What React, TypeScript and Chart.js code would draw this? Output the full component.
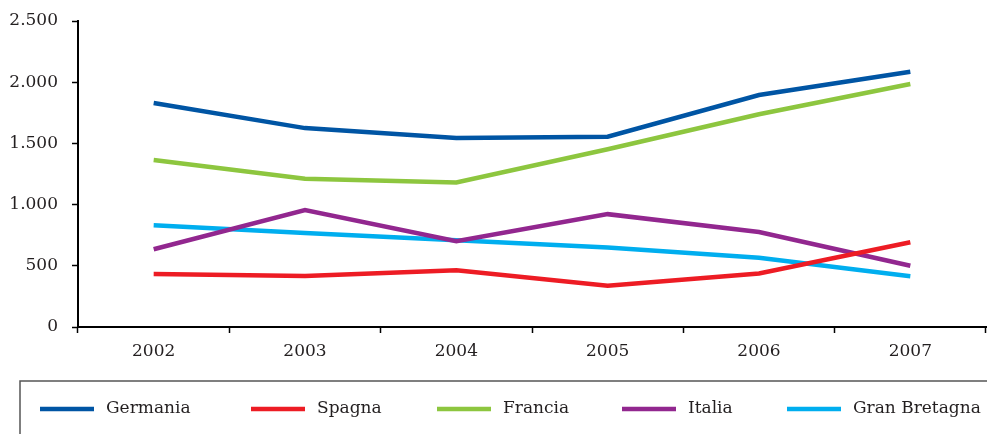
import React, { useEffect, useRef } from "react";
import { Chart, registerables } from "chart.js";

Chart.register(...registerables);

const years = ["2002", "2003", "2004", "2005", "2006", "2007"];
const germania = [1830, 1625, 1545, 1555, 1895, 2085];
const spagna = [433, 417, 463, 337, 437, 692];
const francia = [1364, 1212, 1180, 1452, 1738, 1985];
const italia = [635, 955, 700, 922, 776, 500];
const granBretagna = [832, 767, 708, 650, 565, 414];
const seriesNames = ["Germania", "Spagna", "Francia", "Italia", "Gran Bretagna"];
const seriesColors = ["#0055a4", "#ed1c24", "#8dc63f", "#92278f", "#00aeef"];
const yTicks = [0, 500, 1000, 1500, 2000, 2500];

const FONT = "'DejaVu Serif', serif";
const TEXT = "#231f20";
const legendX = [40, 251, 437, 622, 787];

const fmt = (v: number) => String(v).replace(/\B(?=(\d{3})+(?!\d))/g, ".");

const legendPlugin = {
  id: "boxLegend",
  afterDraw(chart: any) {
    const ctx = chart.ctx as CanvasRenderingContext2D;
    const W = chart.width;
    const H = chart.height;
    const top = 381;
    ctx.save();
    ctx.strokeStyle = "#555555";
    ctx.lineWidth = 1.5;
    ctx.beginPath();
    ctx.moveTo(W, top);
    ctx.lineTo(20, top);
    ctx.lineTo(20, H);
    ctx.stroke();
    ctx.font = `17px ${FONT}`;
    ctx.textBaseline = "middle";
    ctx.textAlign = "left";
    const y = 409;
    chart.data.datasets.forEach((ds: any, i: number) => {
      const x = legendX[i];
      ctx.strokeStyle = ds.borderColor;
      ctx.lineWidth = 4.5;
      ctx.beginPath();
      ctx.moveTo(x, y);
      ctx.lineTo(x + 54, y);
      ctx.stroke();
      ctx.fillStyle = TEXT;
      ctx.fillText(ds.label, x + 66, y);
    });
    ctx.restore();
  },
};

export default function App() {
  const ref = useRef<HTMLCanvasElement | null>(null);
  useEffect(() => {
    if (!ref.current) return;
    const data = [germania, spagna, francia, italia, granBretagna];
    const chart = new Chart(ref.current, {
      type: "line",
      data: {
        labels: years,
        datasets: data.map((d, i) => ({
          label: seriesNames[i],
          data: d,
          borderColor: seriesColors[i],
          backgroundColor: seriesColors[i],
          borderWidth: 4.5,
          pointRadius: 0,
          tension: 0,
          fill: false,
        })),
      },
      options: {
        animation: false,
        responsive: false,
        maintainAspectRatio: false,
        layout: { padding: { top: 21, right: 1, left: 0, bottom: 0 } },
        plugins: { legend: { display: false }, tooltip: { enabled: false } },
        scales: {
          x: {
            offset: true,
            grid: {
              display: true,
              drawOnChartArea: false,
              drawTicks: true,
              tickLength: 6,
              tickColor: "#000",
              tickWidth: 1.5,
              offset: true,
            },
            border: { display: true, color: "#000", width: 2 },
            ticks: {
              color: TEXT,
              font: { family: FONT, size: 17 },
              padding: 8,
              maxRotation: 0,
            },
            afterFit: (s: any) => {
              s.height = 107;
              s.paddingLeft = 0;
              s.paddingRight = 0;
            },
          },
          y: {
            min: 0,
            max: 2500,
            afterBuildTicks: (s: any) => {
              s.ticks = yTicks.map((v) => ({ value: v }));
            },
            grid: {
              display: true,
              drawOnChartArea: false,
              drawTicks: true,
              tickLength: 6,
              tickColor: "#000",
              tickWidth: 1.5,
            },
            border: { display: true, color: "#000", width: 2 },
            ticks: {
              color: TEXT,
              font: { family: FONT, size: 17 },
              padding: 14,
              callback: (v: any) => fmt(Number(v)),
            },
            afterFit: (s: any) => {
              s.width = 78;
              s.paddingTop = 0;
              s.paddingBottom = 0;
            },
          },
        },
      },
      plugins: [legendPlugin],
    });
    return () => chart.destroy();
  }, []);
  return (
    <div style={{ position: "absolute", left: 0, top: 0, width: 987, height: 434, background: "#fff" }}>
      <canvas ref={ref} width={987} height={434} style={{ width: 987, height: 434, display: "block" }} />
    </div>
  );
}
